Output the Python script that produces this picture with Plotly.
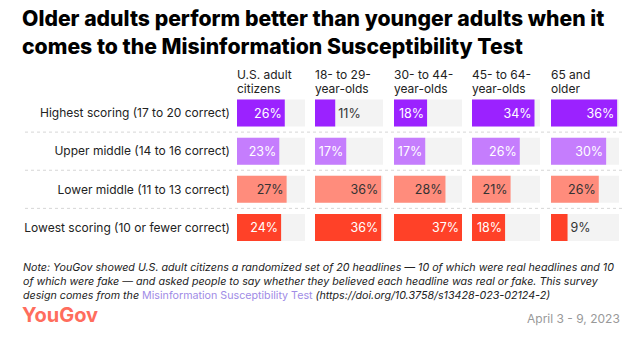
import plotly.graph_objects as go

W, H = 628, 337

groups = ["U.S. adult<br>citizens", "18- to 29-<br>year-olds", "30- to 44-<br>year-olds",
          "45- to 64-<br>year-olds", "65 and<br>older"]
categories = ["Highest scoring (17 to 20 correct)", "Upper middle (14 to 16 correct)",
              "Lower middle (11 to 13 correct)", "Lowest scoring (10 or fewer correct)"]
us_adults = [26, 23, 27, 24]
age_18_29 = [11, 17, 36, 36]
age_30_44 = [18, 17, 28, 37]
age_45_64 = [34, 26, 21, 18]
age_65_up = [36, 30, 26, 9]
series = [us_adults, age_18_29, age_30_44, age_45_64, age_65_up]

bar_colors = ["#9b22ff", "#c57dfd", "#ff8c7c", "#ff4128"]
inside_text_colors = ["#ffffff", "#ffffff", "#333333", "#ffffff"]
FONT = "Inter"

vmax = max(max(s) for s in series)

fig = go.Figure()

def px(x):
    return x / W

def py(y):
    return 1 - y / H

col_left = [237, 315, 394, 472, 551]
col_w = 68
y_dom = [py(246.5), py(94)]

for i, vals in enumerate(series):
    xa = "x" if i == 0 else f"x{i+1}"
    # grey background track
    fig.add_trace(go.Bar(
        y=categories, x=[vmax] * len(vals), orientation="h",
        marker=dict(color="#f3f3f3", line=dict(width=0)),
        hoverinfo="skip", showlegend=False, xaxis=xa, yaxis="y",
    ))
    positions = ["inside" if v >= 15 else "outside" for v in vals]
    text_colors = [inside_text_colors[j] if positions[j] == "inside" else "#333333"
                   for j in range(len(vals))]
    fig.add_trace(go.Bar(
        y=categories, x=vals, orientation="h",
        marker=dict(color=bar_colors, line=dict(width=0)),
        text=[f"{v}%" for v in vals], textposition=positions,
        insidetextanchor="end",
        textfont=dict(family=FONT, size=12.5, color=text_colors),
        cliponaxis=False, showlegend=False, xaxis=xa, yaxis="y",
    ))
    dom = [px(col_left[i]), px(col_left[i] + col_w)]
    axis = dict(domain=dom, range=[0, vmax], showgrid=False, zeroline=False,
                showticklabels=False, fixedrange=True, anchor="y")
    fig.layout[("xaxis" if i == 0 else f"xaxis{i+1}")] = axis
    line1, line2 = groups[i].split("<br>")
    fig.add_annotation(x=px(col_left[i] - 2), y=py(74), xref="paper", yref="paper",
                       text=line1, showarrow=False, xanchor="left", yanchor="middle",
                       font=dict(family=FONT, size=12, color="#222222"))
    fig.add_annotation(x=px(col_left[i] - 2), y=py(88), xref="paper", yref="paper",
                       text=line2, showarrow=False, xanchor="left", yanchor="middle",
                       font=dict(family=FONT, size=12, color="#222222"))

fig.update_layout(
    barmode="overlay", bargap=0.29,
    width=W, height=H, margin=dict(l=0, r=0, t=0, b=0),
    paper_bgcolor="white", plot_bgcolor="white",
    yaxis=dict(domain=y_dom, range=[len(categories) - 0.5, -0.5], showgrid=False,
               zeroline=False, ticks="", ticklabelstandoff=6, anchor="x",
               tickfont=dict(family=FONT, size=12, color="#222222"), fixedrange=True),
)

# dotted separators between rows
for k in range(len(categories) - 1):
    fig.add_shape(type="line", xref="paper", yref="y", x0=px(25), x1=px(622),
                  y0=k + 0.5, y1=k + 0.5, line=dict(color="#d6d6d6", width=1, dash="dot"))

fig.add_annotation(x=px(20), y=py(3), xref="paper", yref="paper", xanchor="left", yanchor="top",
                   align="left", showarrow=False,
                   text="Older adults perform better than younger adults when it<br>comes to the Misinformation Susceptibility Test",
                   font=dict(family=FONT, size=21.2, color="#000000", weight=800))

note = ("<i>Note: YouGov showed U.S. adult citizens a randomized set of 20 headlines — 10 of which were real headlines and 10<br>"
        "of which were fake — and asked people to say whether they believed each headline was real or fake. This survey<br>"
        "design comes from the </i><span style='color:#a08be6'>Misinformation Susceptibility Test</span>"
        "<i> (https://doi.org/10.3758/s13428-023-02124-2)</i>")
fig.add_annotation(x=px(21), y=py(259), xref="paper", yref="paper", xanchor="left", yanchor="top",
                   align="left", showarrow=False, text=note,
                   font=dict(family=FONT, size=10.7, color="#222222"))

fig.add_annotation(x=px(20), y=py(315), xref="paper", yref="paper", xanchor="left", yanchor="middle",
                   showarrow=False, text="<b>YouGov</b>",
                   font=dict(family=FONT, size=20, color="#ff6d5d"))
fig.add_annotation(x=px(622), y=py(318), xref="paper", yref="paper", xanchor="right", yanchor="middle",
                   showarrow=False, text="April 3 - 9, 2023",
                   font=dict(family=FONT, size=12, color="#999999"))

fig.write_html("out.html")
